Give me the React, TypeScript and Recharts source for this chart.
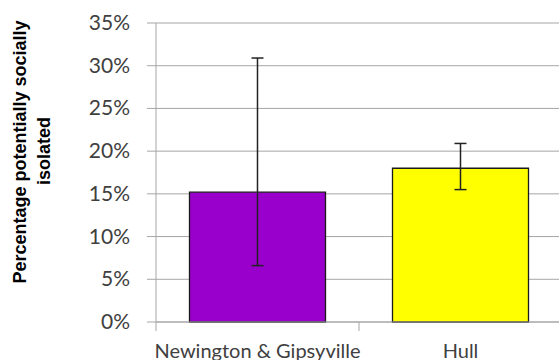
import React from 'react';
import { BarChart, Bar, XAxis, YAxis, CartesianGrid, ErrorBar, Cell } from 'recharts';

const categories = ['Newington & Gipsyville', 'Hull'];
const values = [15.2, 18.0];
const errLow = [6.6, 15.5];
const errHigh = [30.9, 20.9];
const colors = ['#9900CC', '#FFFF00'];
const yTicks = [0, 5, 10, 15, 20, 25, 30, 35];
const yLabelLines = ['Percentage potentially socially', 'isolated'];

const data = categories.map((c, i) => ({
  name: c,
  value: values[i],
  err: [values[i] - errLow[i], errHigh[i] - values[i]],
}));

const TICK_FONT = 'Lato, "Open Sans", sans-serif';
const TEXT_COLOR = '#404040';
const GRID = '#a6a6a6';

const XTick = (props: any) => {
  const { x, y, payload } = props;
  const off = payload && payload.offset ? payload.offset : 0;
  return (
    <g>
      <line x1={x - off} x2={x - off} y1={y - 9} y2={y} stroke={GRID} strokeWidth={1} />
      <text x={x} y={y + 26.5} textAnchor="middle" fill={TEXT_COLOR} fontFamily={TICK_FONT} fontSize={20}>
        {payload.value}
      </text>
    </g>
  );
};

const YTick = (props: any) => {
  const { x, y, payload } = props;
  return (
    <text x={x} y={y} dy={7} textAnchor="end" fill={TEXT_COLOR} fontFamily={TICK_FONT} fontSize={21}>
      {payload.value + '%'}
    </text>
  );
};

const YLabel = () => (
  <g>
    <text
      x={26}
      y={152}
      transform="rotate(-90, 26, 152)"
      textAnchor="middle"
      fontFamily='"Liberation Sans", Arial, sans-serif'
      fontWeight="bold"
      fontSize={18}
      fill="#000"
    >
      {yLabelLines[0]}
    </text>
    <text
      x={50}
      y={151}
      transform="rotate(-90, 50, 151)"
      textAnchor="middle"
      fontFamily='"Liberation Sans", Arial, sans-serif'
      fontWeight="bold"
      fontSize={18}
      fill="#000"
    >
      {yLabelLines[1]}
    </text>
  </g>
);

export default function App() {
  return (
    <div style={{ position: 'absolute', left: 0, top: 0, width: 559, height: 360, overflow: 'hidden', background: '#fff' }}>
      <BarChart
        width={562}
        height={360}
        data={data}
        margin={{ top: 23, right: 0, bottom: 0, left: 0 }}
        barCategoryGap="16.5%"
      >
        <CartesianGrid vertical={false} stroke={GRID} strokeWidth={1} />
        <XAxis
          dataKey="name"
          height={38}
          tickLine={false}
          tickSize={9}
          tickMargin={0}
          axisLine={{ stroke: GRID, strokeWidth: 1 }}
          tick={<XTick />}
          interval={0}
        />
        <YAxis
          width={156}
          domain={[0, 35]}
          ticks={yTicks}
          tickSize={9}
          tickMargin={17}
          tickLine={{ stroke: GRID, strokeWidth: 1 }}
          axisLine={{ stroke: GRID, strokeWidth: 1 }}
          tick={<YTick />}
          label={{ content: () => <YLabel /> }}
        />
        <Bar dataKey="value" stroke="#1a1a1a" strokeWidth={1.3} isAnimationActive={false}>
          {data.map((d, i) => (
            <Cell key={d.name} fill={colors[i]} />
          ))}
          <ErrorBar dataKey="err" width={6} stroke="#222" strokeWidth={1.5} direction="y" isAnimationActive={false} />
        </Bar>
      </BarChart>
    </div>
  );
}
